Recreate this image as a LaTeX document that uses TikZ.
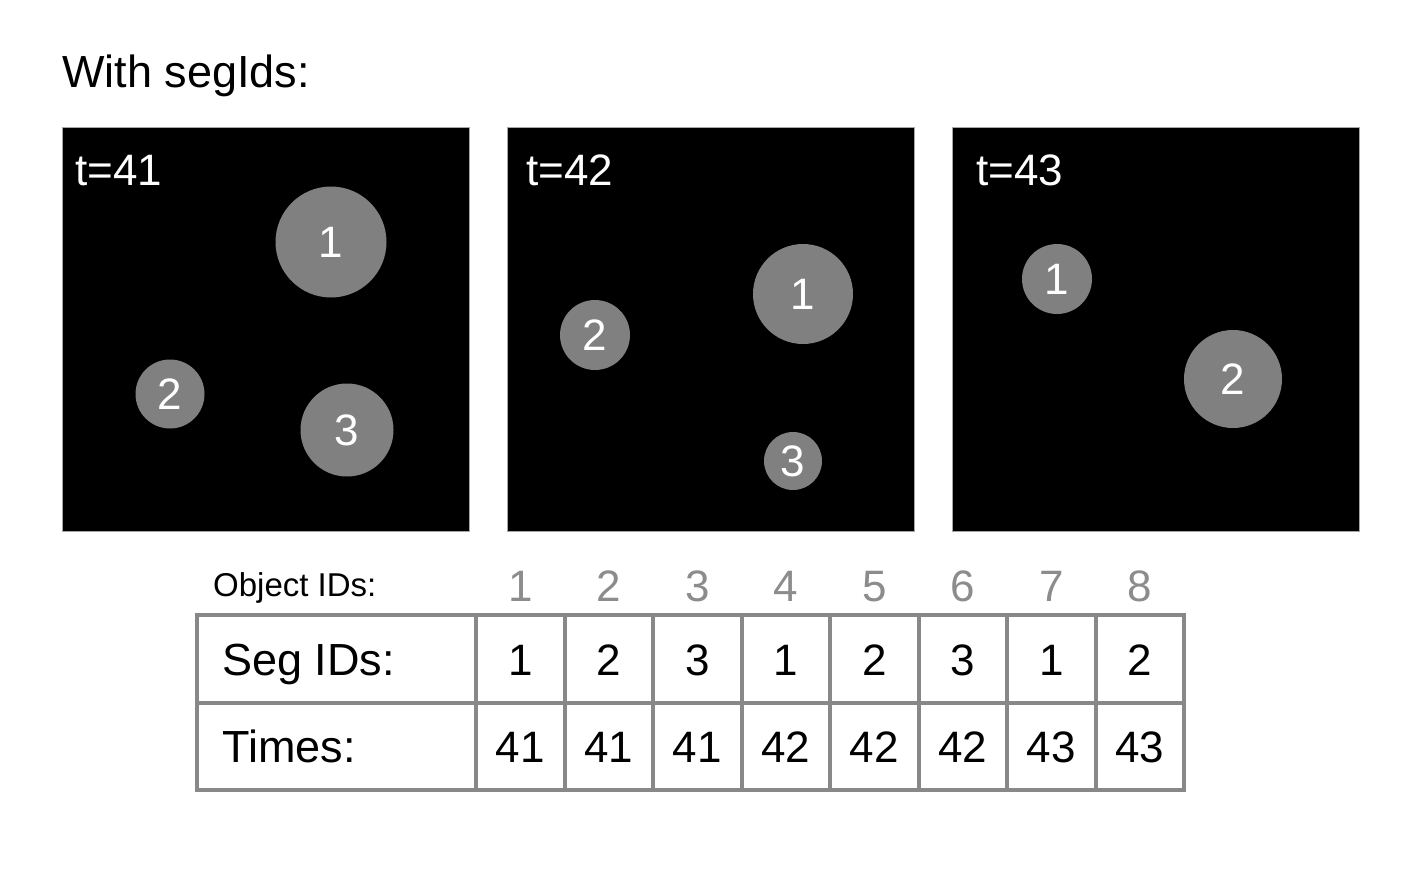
\documentclass[tikz,border=0pt]{standalone}
\usepackage{fontspec}
\setmainfont{Liberation Sans}
\definecolor{blobgray}{HTML}{808080}
\definecolor{gridgray}{HTML}{888888}
\definecolor{idgray}{HTML}{8C8C8C}
\begin{document}
\begin{tikzpicture}[x=1pt,y=-1pt,
  panel/.style={fill=black, draw=gray!70, line width=0.6pt, minimum width=407pt, minimum height=404pt, inner sep=0pt, anchor=north west},
  blob/.style={circle, fill=blobgray, minimum size=#1, inner sep=0pt, text=white, font=\fontsize{44}{44}\selectfont},
  tlabel/.style={anchor=base west, inner sep=0pt, text=white, font=\fontsize{44}{44}\selectfont},
  cell/.style={draw=gridgray, line width=4pt, minimum height=87.5pt, inner sep=0pt},
  celltxt/.style={anchor=base, inner sep=0pt, font=\fontsize{44}{44}\selectfont},
  rowhead/.style={anchor=base west, inner sep=0pt, font=\fontsize{45}{45}\selectfont},
  idnum/.style={anchor=base, inner sep=0pt, text=idgray, font=\fontsize{44}{44}\selectfont}]
\useasboundingbox (0,0) rectangle (1417,868);
\fill[white] (0,0) rectangle (1417,868);

\node[anchor=base west, inner sep=0pt, font=\fontsize{45}{45}\selectfont] (title) at (62,87) {With segIds:};

% panels
\node[panel] (p1) at (62,127) {};
\node[panel] (p2) at (507,127) {};
\node[panel] (p3) at (952,127) {};
\node[tlabel] (l1) at (75,185) {t=41};
\node[tlabel] (l2) at (526,185) {t=42};
\node[tlabel] (l3) at (976,185) {t=43};

% objects t=41
\node[blob=111pt] (a1) at (331,242) {1};
\node[blob=69pt] (a2) at (170,394) {2};
\node[blob=93pt] (a3) at (347,430) {3};
% objects t=42
\node[blob=100pt] (b1) at (803,294) {1};
\node[blob=70pt] (b2) at (595,335) {2};
\node[blob=58pt] (b3) at (793,461) {3};
% objects t=43
\node[blob=70pt] (c1) at (1057,279) {1};
\node[blob=98pt] (c2) at (1233,379) {2};

% table
\node[anchor=base west, inner sep=0pt, font=\fontsize{33}{33}\selectfont] (objlab) at (213,596) {Object IDs:};
\node[cell, minimum width=279pt] (hseg) at (336.5,659) {};
\node[cell, minimum width=279pt] (htime) at (336.5,746.5) {};
\node[rowhead] (tseg) at (222,675) {Seg IDs:};
\node[rowhead] (ttime) at (222,762) {Times:};
\foreach \i/\s/\t in {1/1/41,2/2/41,3/3/41,4/1/42,5/2/42,6/3/42,7/1/43,8/2/43}{
  \pgfmathsetmacro{\cx}{476+88.5*(\i-0.5)}
  \node[cell, minimum width=88.5pt] (s\i) at (\cx,659) {};
  \node[cell, minimum width=88.5pt] (m\i) at (\cx,746.5) {};
  \node[celltxt] (st\i) at (\cx,675) {\s};
  \node[celltxt] (mt\i) at (\cx,762) {\t};
  \node[idnum] (id\i) at (\cx,601) {\i};
}
\end{tikzpicture}
\end{document}
